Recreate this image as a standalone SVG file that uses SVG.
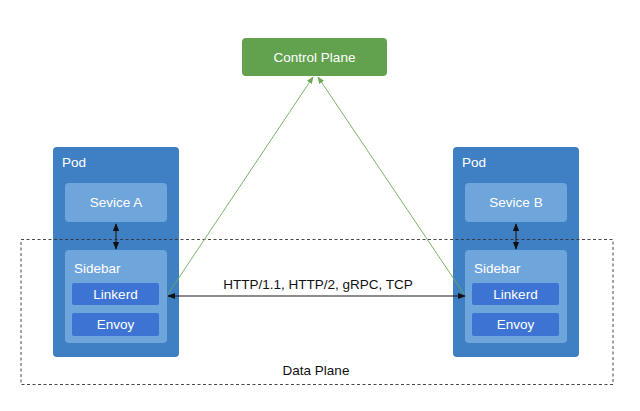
<svg xmlns="http://www.w3.org/2000/svg" width="640" height="411" viewBox="0 0 640 411">
<defs>
<style>
text{font-family:"Liberation Sans",Arial,sans-serif;font-size:13.5px}
.w{fill:#fff}
.c{text-anchor:middle}
.pod{fill:#3f7fc3}
.lt{fill:#6ea5da}
.dk{fill:#3d74d4}
.g{stroke:#6aab55;stroke-width:0.9;fill:none}
.k{stroke:#1a1a1a;stroke-width:1.1;fill:none}
</style>
<marker id="ak" viewBox="0 0 10 10" refX="9" refY="5" markerWidth="7" markerHeight="7" orient="auto-start-reverse"><path d="M0,1 L10,5 L0,9 z" fill="#111"/></marker>
<marker id="ag" viewBox="0 0 10 10" refX="9" refY="5" markerWidth="8" markerHeight="8" orient="auto-start-reverse"><path d="M0,1 L10,5 L0,9 z" fill="#6aab55"/></marker>
</defs>
<rect width="640" height="411" fill="#fff"/>
<g id="control-plane">
<rect x="242" y="38" width="145" height="38" rx="4" fill="#62a24f"/>
<text class="w c" x="314.5" y="62">Control Plane</text>
</g>
<g id="pod-a">
<rect class="pod" x="53" y="147" width="126" height="210" rx="4"/>
<text class="w" x="62" y="167">Pod</text>
<rect class="lt" x="65" y="183" width="102" height="39" rx="4"/>
<text class="w c" x="116" y="207">Sevice A</text>
<rect class="lt" x="65" y="250" width="102" height="93" rx="4"/>
<text class="w" x="74" y="273">Sidebar</text>
<rect class="dk" x="72" y="283" width="87" height="22" rx="2"/>
<text class="w c" x="115.5" y="299">Linkerd</text>
<rect class="dk" x="72" y="313" width="87" height="23" rx="2"/>
<text class="w c" x="115.5" y="329">Envoy</text>
</g>
<g id="pod-b">
<rect class="pod" x="453" y="147" width="126" height="210" rx="4"/>
<text class="w" x="462" y="167">Pod</text>
<rect class="lt" x="465" y="183" width="102" height="39" rx="4"/>
<text class="w c" x="516" y="207">Sevice B</text>
<rect class="lt" x="465" y="250" width="102" height="93" rx="4"/>
<text class="w" x="474" y="273">Sidebar</text>
<rect class="dk" x="472" y="283" width="87" height="22" rx="2"/>
<text class="w c" x="515.5" y="299">Linkerd</text>
<rect class="dk" x="472" y="313" width="87" height="23" rx="2"/>
<text class="w c" x="515.5" y="329">Envoy</text>
</g>
<g id="data-plane">
<rect x="21" y="239.5" width="592" height="145" fill="none" stroke="#333" stroke-width="0.9" stroke-dasharray="3,2.5"/>
<text class="c" x="316" y="375" fill="#111">Data Plane</text>
</g>
<g id="connectors">
<line class="k" x1="116" y1="224" x2="116" y2="249" marker-start="url(#ak)" marker-end="url(#ak)"/>
<line class="k" x1="516" y1="224" x2="516" y2="249" marker-start="url(#ak)" marker-end="url(#ak)"/>
<line class="k" x1="168" y1="296" x2="465" y2="296" marker-start="url(#ak)" marker-end="url(#ak)"/>
<line class="g" x1="168" y1="294" x2="313" y2="77" marker-end="url(#ag)"/>
<line class="g" x1="464" y1="294" x2="318" y2="77" marker-end="url(#ag)"/>
<text class="c" x="318" y="289" fill="#111">HTTP/1.1, HTTP/2, gRPC, TCP</text>
</g>
</svg>
